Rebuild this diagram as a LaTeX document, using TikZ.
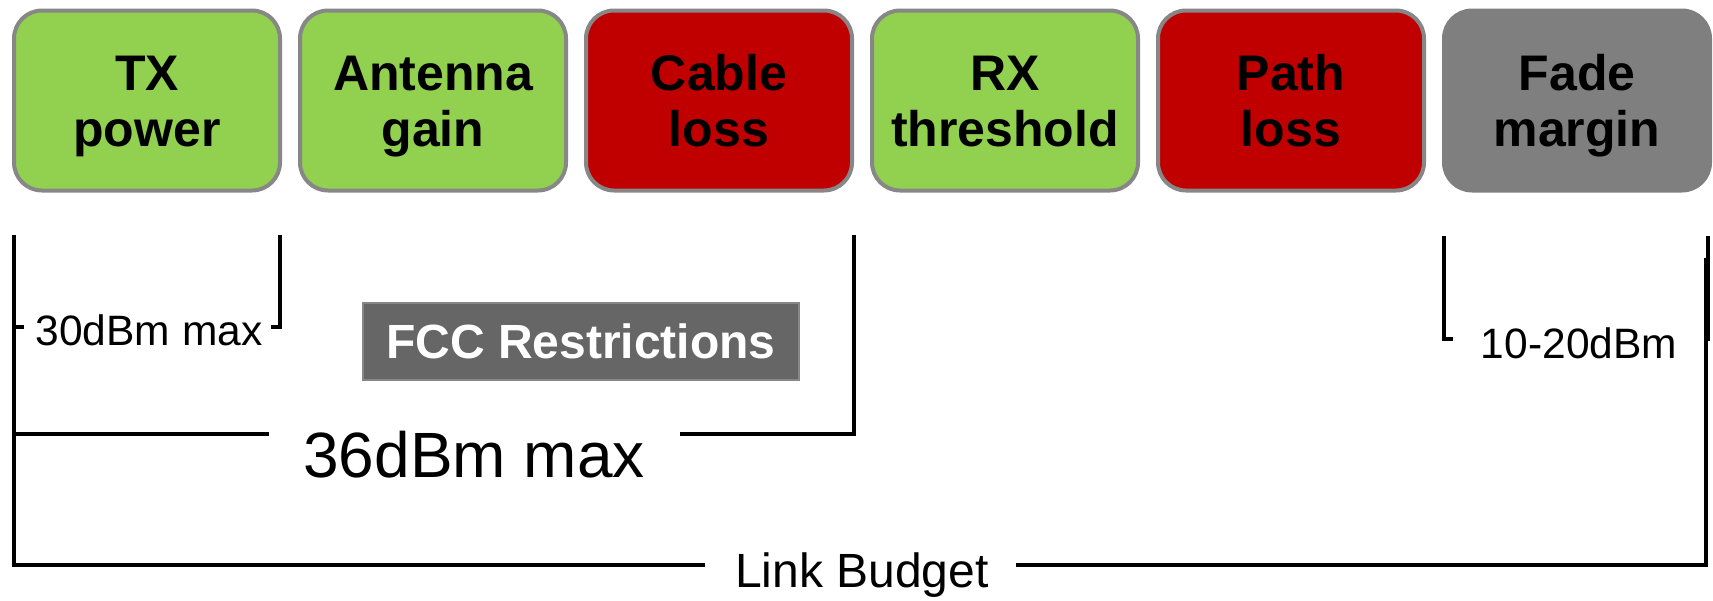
\documentclass[tikz,border=0pt]{standalone}
\usepackage{fontspec}
\setmainfont{Liberation Sans}
\usepackage{tikz}
\usetikzlibrary{shapes,arrows}
\definecolor{gaingreen}{HTML}{92D050}
\definecolor{lossred}{HTML}{C00000}
\definecolor{edgegray}{HTML}{878787}
\definecolor{fadegray}{HTML}{7F7F7F}
\definecolor{fccgray}{HTML}{666666}
\newcommand{\fs}[2]{\fontsize{#1}{#2}\selectfont}

\begin{document}
\begin{tikzpicture}[x=1pt,y=-1pt,node distance=286pt]
    \tikzstyle{block}=[rectangle,rounded corners=28pt,line width=4pt,draw=edgegray,minimum width=266pt,minimum height=180pt,align=center,font=\fs{50}{56}\bfseries,text height=92pt,text depth=0pt]
    \tikzstyle{gain}=[block,fill=gaingreen]
    \tikzstyle{loss}=[block,fill=lossred]
    \tikzstyle{fade}=[block,fill=fadegray,draw=fadegray]
    \tikzstyle{bracket}=[line width=3.5pt]
    \tikzstyle{labelsmall}=[font=\fs{42.5}{48},anchor=base]

    \useasboundingbox (0,0) rectangle (1713,600);

    \node(tx)  [gain] at (147,100.5) {TX\\power};
    \node(ant) [gain,right of=tx] {Antenna\\gain};
    \node(cab) [loss,right of=ant] {Cable\\loss};
    \node(rx)  [gain,right of=cab] {RX\\threshold};
    \node(pth) [loss,right of=rx] {Path\\loss};
    \node(fm)  [fade,right of=pth] {Fade\\margin};

    \node(fcc) [fill=fccgray,draw=edgegray,line width=1.5pt,minimum width=436pt,minimum height=77pt,text=white,font=\fs{48}{54}\bfseries,text height=34pt,text depth=0pt] at (581,341.5) {FCC Restrictions};

    \node(p30)   [labelsmall] at (149,345) {30dBm max};
    \node(p36)   [font=\fs{64}{72},anchor=base] at (474,477) {36dBm max};
    \node(p1020) [labelsmall] at (1579,358) {10-20dBm};
    \node(link)  [font=\fs{48}{54},anchor=base] at (862,587) {Link Budget};

    % TX power only
    \draw [bracket] (14,327) -- (24,327);
    \draw [bracket] (271,327) -- (280,327) -- (280,235);
    % TX power + antenna gain - cable loss
    \draw [bracket] (14,434) -- (269,434);
    \draw [bracket] (680,434) -- (854,434) -- (854,235);
    % fade margin
    \draw [bracket] (1444,236) -- (1444,339) -- (1453,339);
    \draw [bracket] (1708,236) -- (1708,339) -- (1704,339);
    % whole budget
    \draw [bracket] (14,235) -- (14,565) -- (705,565);
    \draw [bracket] (1016,565) -- (1706,565) -- (1706,258);

\end{tikzpicture}
\end{document}
